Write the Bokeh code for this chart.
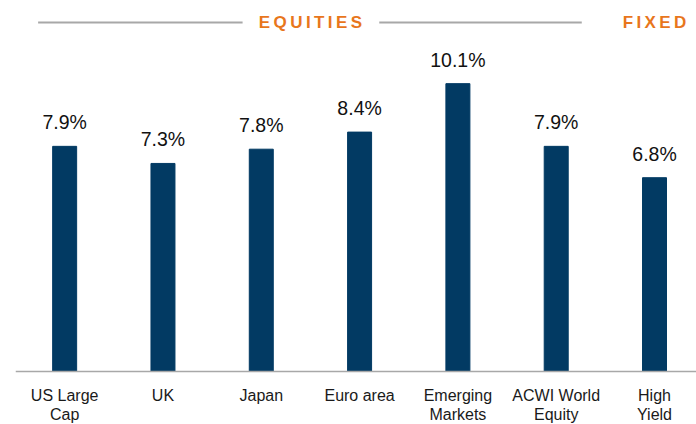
from bokeh.plotting import figure
from bokeh.models import Range1d, ColumnDataSource, Span
from bokeh.core.properties import value
from bokeh.embed import file_html
from bokeh.resources import INLINE

# ---- data ----
categories = ["US Large\nCap", "UK", "Japan", "Euro area", "Emerging\nMarkets",
              "ACWI World\nEquity", "High\nYield"]
returns = [7.9, 7.3, 7.8, 8.4, 10.1, 7.9, 6.8]
labels = ["7.9%", "7.3%", "7.8%", "8.4%", "10.1%", "7.9%", "6.8%"]
groups = ["EQUITIES", "FIXED"]

# ---- styles ----
BAR = "#023a63"
ORANGE = "#e8761c"
GRAY = "#a8a8a8"
PX_PER_UNIT = 28.5

xs = list(range(len(categories)))
src = ColumnDataSource(dict(x=xs, top=returns, lab=labels, cat=categories))

p = figure(width=696, height=424, output_backend="svg", toolbar_location=None,
           x_range=Range1d(-0.5, 6.427),
           y_range=Range1d(-53 / PX_PER_UNIT, 371 / PX_PER_UNIT),
           min_border_left=15, min_border_right=0, min_border_top=0,
           min_border_bottom=0)
p.outline_line_color = None
p.grid.visible = False
p.axis.visible = False
p.background_fill_color = "white"
p.border_fill_color = "white"

p.vbar(x="x", top="top", width=0.244, source=src, color=BAR)
p.add_layout(Span(location=0, dimension="width", line_color=GRAY, line_width=1.5))

p.text(x="x", y="top", text="lab", source=src, y_offset=-24,
       text_align="center", text_baseline="alphabetic",
       text_font=value("Liberation Sans"), text_font_size="19.5px",
       text_color="#111111")

p.text(x="x", y=0, text="cat", source=src, y_offset=15,
       text_align="center", text_baseline="top", text_line_height=1.15,
       text_font=value("Liberation Sans"), text_font_size="16px",
       text_color="#1a1a1a")

# ---- header ----
hy = 12.25
p.segment(x0=[-0.27, 3.2], y0=[hy, hy], x1=[1.81, 5.26], y1=[hy, hy],
          line_color=GRAY, line_width=2)
p.text(x=[2.5, 6.0], y=[hy, hy], text=["\u2009".join(g) for g in groups],
       text_align="center", text_baseline="middle",
       text_font=value("Liberation Sans"), text_font_style="bold",
       text_font_size="17px", text_color=ORANGE)

open("out.html", "w").write(file_html(p, INLINE))
